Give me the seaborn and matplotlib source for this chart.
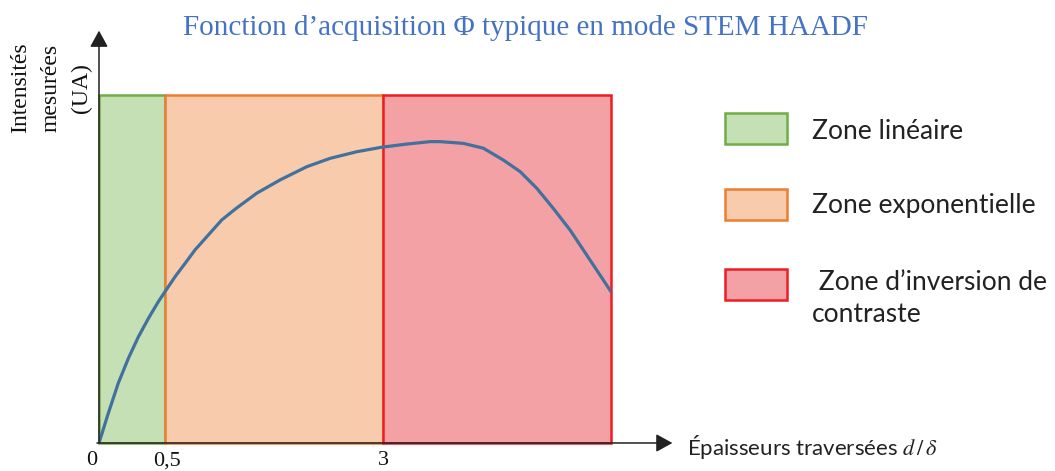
import numpy as np
import matplotlib
matplotlib.use("Agg")
import matplotlib.pyplot as plt
from matplotlib.patches import Rectangle
from matplotlib.transforms import ScaledTranslation
import seaborn as sns

# Acquisition function: measured intensity vs. traversed thickness d/delta
thickness = [0.0, 0.070, 0.146, 0.222, 0.298, 0.374, 0.449, 0.5, 0.615,
             0.729, 0.844, 0.997, 1.150, 1.314, 1.552, 1.819, 2.125, 2.392,
             2.698, 2.985, 3.270, 3.536, 3.650, 3.916, 4.144, 4.372, 4.562,
             4.753, 4.942, 5.133, 5.323, 5.6]
intensity = [0.0, 0.085, 0.172, 0.243, 0.305, 0.358, 0.406, 0.435, 0.478,
             0.516, 0.555, 0.598, 0.641, 0.674, 0.718, 0.756, 0.794, 0.818,
             0.837, 0.850, 0.859, 0.866, 0.866, 0.861, 0.847, 0.813, 0.780,
             0.732, 0.674, 0.612, 0.540, 0.435]

# Zones along the thickness axis
zone_edges = [0.0, 0.5, 3.0, 5.6]
zone_names = ["Zone linéaire", "Zone exponentielle", " Zone d’inversion de\ncontraste"]
zone_fill = ["#C5E0B4", "#F8CBAD", "#F4A1A5"]
zone_line = ["#70AD47", "#ED7D31", "#EE1D25"]

tick_values = [0.0, 0.5, 3.0]
tick_labels = ["0", "0,5", "3"]

# Schematic (piecewise-linear) thickness axis
scale_breaks = [0.0, 0.5, 3.0, 5.6, 8.0]
scale_pos = [0.0, 0.129, 0.555, 1.0, 1.411]


def fwd(v):
    return np.interp(v, scale_breaks, scale_pos)


def inv(v):
    return np.interp(v, scale_pos, scale_breaks)


sns.set_theme(style="white")
plt.rcParams["mathtext.fontset"] = "stix"

W, H = 1055, 471
fig = plt.figure(figsize=(W / 100, H / 100), dpi=100)
ax = fig.add_axes([99 / W, 28 / H, 512 / W, 348 / H])
ax.set_xscale("function", functions=(fwd, inv))
ax.set_xlim(zone_edges[0], zone_edges[-1])
ax.set_ylim(0, 1)

for lo, hi, fc, ec in zip(zone_edges[:-1], zone_edges[1:], zone_fill, zone_line):
    ax.axvspan(lo, hi, ymin=0, ymax=1, facecolor=fc, edgecolor=ec,
               linewidth=1.8, clip_on=False, zorder=1)

sns.lineplot(x=thickness, y=intensity, ax=ax, color="#41719C",
             linewidth=2.3, zorder=3)
ax.lines[-1].set_solid_joinstyle("round")
ax.set_xlabel("")
ax.set_ylabel("")
for s in ax.spines.values():
    s.set_visible(False)

ax.set_yticks([])
ax.set_xticks(tick_values)
ax.set_xticklabels(tick_labels, family="Liberation Serif", fontsize=16,
                   color="#111111")
ax.tick_params(axis="x", length=0, pad=6)
ax.get_xticklabels()[0].set_transform(
    ax.get_xticklabels()[0].get_transform()
    + ScaledTranslation(-7 / 100, 0, fig.dpi_scale_trans))
ax.get_xticklabels()[1].set_transform(
    ax.get_xticklabels()[1].get_transform()
    + ScaledTranslation(2 / 100, 0, fig.dpi_scale_trans))

# Axis arrows
arrow = dict(arrowstyle="-|>,head_length=1.0,head_width=0.55",
             color="#222222", lw=1.1, shrinkA=0, shrinkB=0,
             mutation_scale=10)
ax.annotate("", xy=(0, 1.185), xytext=(0, 0), xycoords="axes fraction",
            textcoords="axes fraction", arrowprops=arrow,
            annotation_clip=False, zorder=5)
ax.annotate("", xy=(1.12, 0), xytext=(-0.004, 0), xycoords="axes fraction",
            textcoords="axes fraction", arrowprops=arrow,
            annotation_clip=False, zorder=5)

fig.text(525 / W, 1 - 28 / H,
         "Fonction d’acquisition Φ typique en mode STEM HAADF",
         family="Liberation Serif", fontsize=21, color="#4472C4",
         ha="center", va="center")

fig.text(51 / W, 1 - 88 / H, "Intensités\nmesurées\n(UA)",
         family="Liberation Serif", fontsize=17, color="#111111",
         rotation=90, ha="center", va="center", multialignment="center",
         linespacing=1.6)

fig.text(687 / W, 1 - 447 / H, "Épaisseurs traversées $d\\,/\\,\\delta$",
         family="Lato", fontsize=16, color="#222222", ha="left", va="center")

# Legend boxes with labels
box_tops = [113, 189, 269]
label_centers = [132, 205, 298]
for name, fc, ec, top, yc in zip(zone_names, zone_fill, zone_line,
                                 box_tops, label_centers):
    fig.patches.append(Rectangle((725 / W, 1 - (top + 31) / H), 62 / W, 31 / H,
                                 transform=fig.transFigure, facecolor=fc,
                                 edgecolor=ec, linewidth=1.8))
    fig.text(812 / W, 1 - yc / H, name, family="Lato", fontsize=19,
             color="#222222", ha="left", va="center", linespacing=1.35)

fig.savefig("out.png", dpi=100)
